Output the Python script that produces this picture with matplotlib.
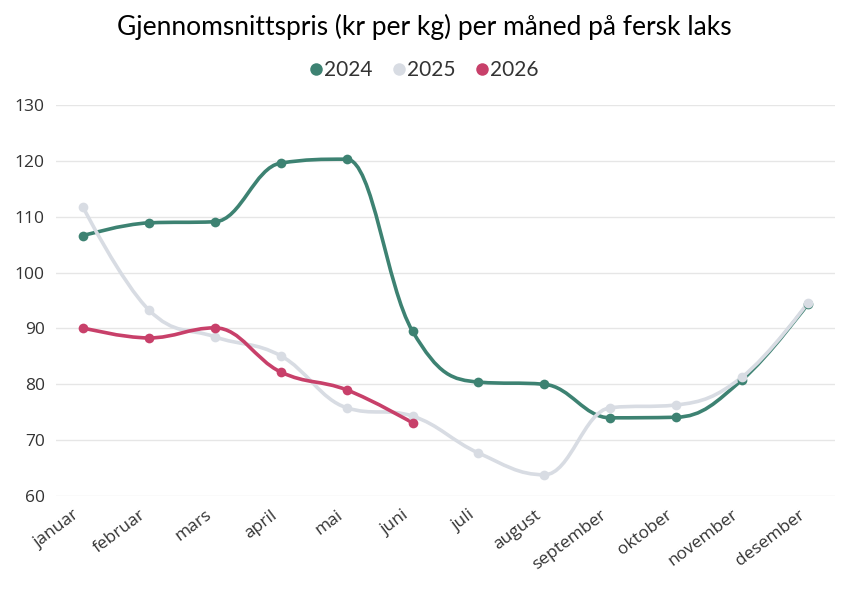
import matplotlib.pyplot as plt
from matplotlib.path import Path
from matplotlib.patches import PathPatch
from matplotlib.lines import Line2D
import matplotlib.transforms as mtransforms
import numpy as np

months = ['januar', 'februar', 'mars', 'april', 'mai', 'juni', 'juli',
          'august', 'september', 'oktober', 'november', 'desember']
pris_2024 = [106.6, 108.9, 109.1, 119.6, 120.3, 89.5, 80.4, 80.0, 74.0, 74.1, 80.8, 94.4]
pris_2025 = [111.7, 93.3, 88.5, 85.1, 75.8, 74.3, 67.7, 63.8, 75.8, 76.3, 81.3, 94.6]
pris_2026 = [90.1, 88.3, 90.1, 82.2, 79.0, 73.1]
years = ['2024', '2025', '2026']
colors = ['#3d8272', '#d8dce3', '#c8406a']


def spline_path(xs, ys, smoothing=1.5):
    # highcharts-like spline, control points per point
    n = len(xs)
    left = [(xs[i], ys[i]) for i in range(n)]
    right = [(xs[i], ys[i]) for i in range(n)]
    d = smoothing + 1
    for i in range(1, n - 1):
        x, y = xs[i], ys[i]
        lx, ly = xs[i - 1], ys[i - 1]
        nx, ny = xs[i + 1], ys[i + 1]
        lcx = (smoothing * x + lx) / d
        lcy = (smoothing * y + ly) / d
        rcx = (smoothing * x + nx) / d
        rcy = (smoothing * y + ny) / d
        corr = 0
        if rcx != lcx:
            corr = (rcy - lcy) * (rcx - x) / (rcx - lcx) + y - rcy
        lcy += corr
        rcy += corr
        if lcy > ly and lcy > y:
            lcy = max(ly, y)
            rcy = 2 * y - lcy
        elif lcy < ly and lcy < y:
            lcy = min(ly, y)
            rcy = 2 * y - lcy
        if rcy > ny and rcy > y:
            rcy = max(ny, y)
            lcy = 2 * y - rcy
        elif rcy < ny and rcy < y:
            rcy = min(ny, y)
            lcy = 2 * y - rcy
        left[i] = (lcx, lcy)
        right[i] = (rcx, rcy)
    verts = [(xs[0], ys[0])]
    codes = [Path.MOVETO]
    for i in range(1, n):
        verts += [right[i - 1], left[i], (xs[i], ys[i])]
        codes += [Path.CURVE4] * 3
    return Path(verts, codes)


fig = plt.figure(figsize=(8.49, 5.94), dpi=100)
ax = fig.add_axes([56 / 849, 1 - 496 / 594, (835 - 56) / 849, (496 - 105) / 594])

for data, col in zip([pris_2024, pris_2025, pris_2026], colors):
    xs = np.arange(len(data))
    ax.add_patch(PathPatch(spline_path(xs, data), facecolor='none', edgecolor=col,
                           lw=2.6, capstyle='round', joinstyle='round', zorder=3))
    ax.plot(xs, data, 'o', color=col, ms=7, mec='none', zorder=4)

ax.set_xlim(-0.41, 11.41)
ax.set_ylim(60, 130)
ax.set_yticks(range(60, 131, 10))
ax.grid(axis='y', color='#e6e6e6', lw=1)
ax.set_axisbelow(True)
for s in ax.spines.values():
    s.set_visible(False)
ax.tick_params(length=0)
ax.tick_params(axis='y', labelsize=12.5, labelcolor='#333333', pad=8)
for lab in ax.get_yticklabels():
    lab.set_fontfamily('Open Sans')

ax.set_xticks(range(12))
ax.set_xticklabels(months, rotation=37, ha='right', va='top', rotation_mode='anchor',
                   fontsize=12.5, color='#333333', family='Open Sans')
offset = mtransforms.ScaledTranslation(-10 / 100, -6 / 100, fig.dpi_scale_trans)
for lab in ax.get_xticklabels():
    lab.set_transform(lab.get_transform() + offset)

fig.text(0.5, 1 - 27 / 594, 'Gjennomsnittspris (kr per kg) per måned på fersk laks',
         ha='center', va='center', fontsize=19, family='Lato', color='#000000')

handles = [Line2D([], [], marker='o', ls='none', color=c, ms=9, mec='none') for c in colors]
leg = fig.legend(handles, years, loc='center', bbox_to_anchor=(0.5, 1 - 70 / 594),
                 ncol=3, frameon=False, handlelength=0.5, handletextpad=0.15,
                 columnspacing=1.0, prop={'family': 'Lato', 'size': 15})
for t in leg.get_texts():
    t.set_color('#333333')

fig.savefig('out.png', dpi=100)
